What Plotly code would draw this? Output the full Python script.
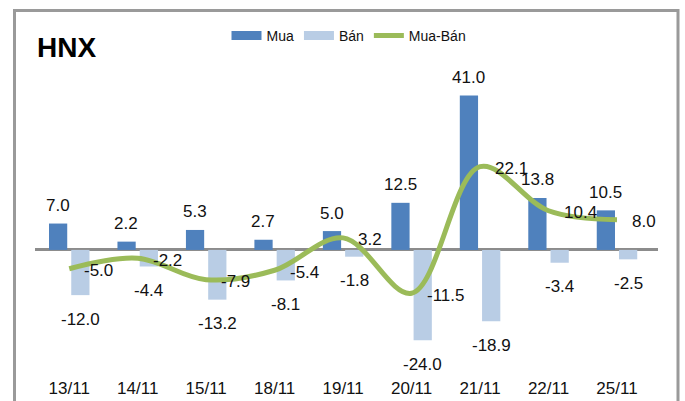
import plotly.graph_objects as go

categories = ["13/11", "14/11", "15/11", "18/11", "19/11", "20/11", "21/11", "22/11", "25/11"]
mua = [7.0, 2.2, 5.3, 2.7, 5.0, 12.5, 41.0, 13.8, 10.5]
ban = [-12.0, -4.4, -13.2, -8.1, -1.8, -24.0, -18.9, -3.4, -2.5]
mua_ban = [-5.0, -2.2, -7.9, -5.4, 3.2, -11.5, 22.1, 10.4, 8.0]

C_MUA = "#4F81BD"
C_BAN = "#B9CDE5"
C_NET = "#9BBB59"
FONT = "Liberation Sans, Arial, sans-serif"
TXT = "#111111"

L, R, T, B = 35, 27, 70, 29
W, H = 685, 401
plot_w = W - L - R
plot_h = H - T - B
cat_w = plot_w / len(categories)
bargap = 0.35
bargroupgap = 0.18
slot = cat_w * (1 - bargap) / 2
off = slot / 2

fig = go.Figure()
fig.add_trace(go.Bar(name="Mua", x=categories, y=mua, showlegend=False,
                     marker=dict(color=C_MUA, line=dict(width=0))))
fig.add_trace(go.Bar(name="Bán", x=categories, y=ban, showlegend=False,
                     marker=dict(color=C_BAN, line=dict(width=0))))
fig.add_trace(go.Scatter(name="Mua-Bán", x=categories, y=mua_ban, mode="lines", showlegend=False,
                         line=dict(color=C_NET, width=5, shape="spline", smoothing=1.0)))
# legend-only entries (wide swatches like the reference)
fig.add_trace(go.Scatter(name="Mua", x=[None], y=[None], mode="lines", line=dict(color=C_MUA, width=9)))
fig.add_trace(go.Scatter(name="Bán", x=[None], y=[None], mode="lines", line=dict(color=C_BAN, width=9)))
fig.add_trace(go.Scatter(name="Mua-Bán", x=[None], y=[None], mode="lines", line=dict(color=C_NET, width=5)))

annotations = []
for c, v in zip(categories, mua):
    annotations.append(dict(x=c, y=v, xref="x", yref="y", text=f"{v:.1f}", showarrow=False,
                            xanchor="center", yanchor="middle", xshift=-off, yshift=18,
                            font=dict(family=FONT, size=17, color=TXT)))
for c, v in zip(categories, ban):
    annotations.append(dict(x=c, y=v, xref="x", yref="y", text=f"{v:.1f}", showarrow=False,
                            xanchor="center", yanchor="middle", xshift=off, yshift=-24,
                            font=dict(family=FONT, size=17, color=TXT)))
for c, v in zip(categories, mua_ban):
    annotations.append(dict(x=c, y=v, xref="x", yref="y", text=f"{v:.1f}", showarrow=False,
                            xanchor="left", yanchor="middle", xshift=13, yshift=-2,
                            font=dict(family=FONT, size=17, color=TXT)))

fig.update_layout(
    width=W, height=H,
    margin=dict(l=L, r=R, t=T, b=B, pad=0, autoexpand=False),
    paper_bgcolor="white", plot_bgcolor="white",
    barmode="group", bargap=bargap, bargroupgap=bargroupgap,
    title=dict(text="<b>HNX</b>", xref="container", yref="container", x=37 / W, y=1 - 47.5 / H,
               xanchor="left", yanchor="middle", font=dict(family=FONT, size=28, color="#000000")),
    legend=dict(orientation="h", x=(349 - L) / plot_w, xanchor="center", y=(H - B - 36) / plot_h,
                yanchor="middle", font=dict(family=FONT, size=14, color=TXT),
                bgcolor="rgba(0,0,0,0)", itemwidth=30, traceorder="normal"),
    xaxis=dict(showgrid=False, showline=False, ticks="", tickfont=dict(family=FONT, size=17, color=TXT),
               ticklabelstandoff=4, automargin=False),
    yaxis=dict(range=[-32.4, 47.75], showgrid=False, showticklabels=False, showline=False, ticks="",
               zeroline=True, zerolinecolor="#8c8c8c", zerolinewidth=3, automargin=False),
    annotations=annotations,
    shapes=[dict(type="rect", xref="paper", yref="paper",
                 x0=(14.5 - L) / plot_w, x1=(678 - L) / plot_w,
                 y0=-0.3, y1=(H - B - 10.5) / plot_h,
                 line=dict(color="#9a9a9a", width=3), fillcolor="rgba(0,0,0,0)", layer="below")],
    showlegend=True,
)

fig.write_html("out.html", config={"displayModeBar": False},
               post_script="document.body.style.margin='0px';document.body.style.padding='0px';")
